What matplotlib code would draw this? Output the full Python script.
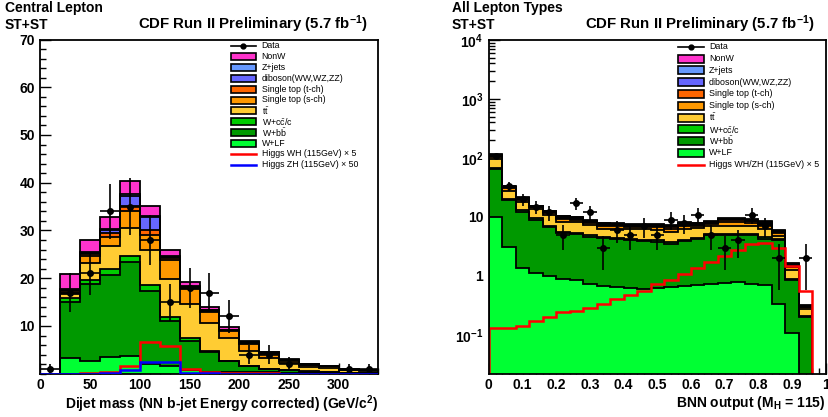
import numpy as np
import matplotlib
matplotlib.use('Agg')
import matplotlib.pyplot as plt
from matplotlib.patches import Rectangle
from matplotlib.lines import Line2D
from matplotlib.ticker import FixedLocator, MultipleLocator, NullFormatter

plt.rcParams['font.family'] = ['Liberation Sans', 'DejaVu Sans']
plt.rcParams['mathtext.fontset'] = 'custom'
plt.rcParams['mathtext.rm'] = 'Liberation Sans'
plt.rcParams['mathtext.bf'] = 'Liberation Sans:bold'
plt.rcParams['mathtext.it'] = 'Liberation Sans:italic'

# ---------------- data: left panel (dijet mass, 20 GeV bins 0-340) ----------------
mjj_edges = [0, 20, 40, 60, 80, 100, 120, 140, 160, 180, 200, 220, 240, 260, 280, 300, 320, 340]
L_wlf    = [0, 3.2, 2.7, 3.4, 3.7, 2.0, 1.6, 0.8, 0.3, 0.3, 0.4, 0.3, 0.2, 0.15, 0.1, 0.05, 0.05]
L_wbb    = [0, 11.9, 16.0, 17.3, 19.6, 15.4, 9.5, 6.1, 4.2, 2.3, 1.2, 0.6, 0.55, 0.3, 0.2, 0.1, 0.1]
L_wcc    = [0, 0.8, 1.0, 1.2, 1.3, 1.2, 0.8, 0.5, 0.2, 0.1, 0.1, 0.1, 0.05, 0.05, 0.03, 0.02, 0.02]
L_tt     = [0, 0.7, 3.5, 4.9, 6.0, 7.3, 8.0, 7.2, 5.9, 4.7, 3.1, 2.2, 1.4, 0.9, 0.95, 0.55, 0.45]
L_stops  = [0, 0.4, 1.4, 1.8, 3.5, 3.1, 4.0, 3.1, 2.4, 1.6, 1.4, 1.0, 0.55, 0.45, 0.25, 0.15, 0.15]
L_stopt  = [0, 0.3, 0.4, 0.8, 1.0, 1.0, 0.3, 0.3, 0.15, 0.1, 0.15, 0.1, 0.1, 0.05, 0.03, 0.02, 0.02]
L_dib    = [0, 0.3, 0.3, 0.6, 2.1, 2.8, 0.2, 0.2, 0.1, 0.1, 0.15, 0.1, 0.05, 0.03, 0.02, 0.01, 0.01]
L_zjets  = [0, 0.2, 0.2, 0.4, 0.5, 0.3, 0.2, 0.2, 0.1, 0.05, 0.1, 0.05, 0.05, 0.02, 0.02, 0.0, 0.0]
L_nonw   = [0, 3.0, 2.5, 2.4, 2.7, 2.1, 1.4, 0.9, 0.7, 0.5, 0.3, 0.15, 0.05, 0.05, 0.0, 0.0, 0.0]
L_wh5    = [0, 0, 0.1, 0.3, 1.6, 6.6, 5.8, 0.9, 0.35, 0.15, 0.1, 0.05, 0.02, 0, 0, 0, 0]
L_zh50   = [0, 0, 0, 0.1, 0.7, 2.5, 2.5, 0.25, 0.05, 0.02, 0, 0, 0, 0, 0, 0, 0]
L_data   = [1, 17, 21, 34, 35, 28, 15, 18, 17, 12, 4, 4, 2, 0, 0, 1, 1]

# ---------------- data: right panel (BNN output, 25 bins 0-1) ----------------
bnn_edges = [0.0, 0.04, 0.08, 0.12, 0.16, 0.2, 0.24, 0.28, 0.32, 0.36, 0.4, 0.44, 0.48,
             0.52, 0.56, 0.6, 0.64, 0.68, 0.72, 0.76, 0.8, 0.84, 0.88, 0.92, 0.96, 1.0]
R_wlf   = [10.0, 3.1, 1.38, 1.14, 1.0, 0.9, 0.86, 0.72, 0.68, 0.65, 0.62, 0.6, 0.62, 0.64, 0.67,
           0.70, 0.73, 0.75, 0.78, 0.74, 0.70, 0.34, 0.107, 0.015, 0]
R_wbb   = [55.0, 16.3, 10.9, 7.8, 5.7, 4.4, 4.24, 3.88, 3.72, 3.55, 3.38, 3.3, 3.18, 2.86, 3.23,
           3.5, 4.27, 4.25, 4.22, 4.26, 3.6, 3.76, 0.75, 0.185, 0]
R_wcc   = [3.0, 0.9, 0.6, 0.5, 0.4, 0.3, 0.3, 0.26, 0.19, 0.21, 0.22, 0.23, 0.22, 0.2, 0.23,
           0.22, 0.21, 0.21, 0.21, 0.21, 0.19, 0.07, 0.04, 0.007, 0]
R_tt    = [27.0, 7.7, 5.3, 4.3, 3.7, 2.7, 2.7, 2.34, 1.71, 1.89, 1.98, 2.07, 1.98, 1.8, 2.07,
           1.98, 1.89, 1.89, 1.89, 1.89, 1.71, 0.63, 0.37, 0.063, 0]
R_stops = [9.9, 2.5, 1.5, 0.8, 0.9, 1.0, 0.9, 0.77, 0.77, 0.68, 0.58, 0.58, 0.72, 0.81, 0.86,
           0.72, 0.63, 1.2, 1.2, 0.9, 1.0, 0.54, 0.16, 0.023, 0]
R_stopt = [4.4, 1.1, 0.66, 0.36, 0.4, 0.46, 0.4, 0.34, 0.34, 0.3, 0.26, 0.26, 0.32, 0.36, 0.38,
           0.32, 0.28, 0.54, 0.54, 0.4, 0.46, 0.24, 0.07, 0.01, 0]
R_dib   = [2.6, 0.66, 0.4, 0.22, 0.24, 0.28, 0.24, 0.2, 0.2, 0.18, 0.16, 0.16, 0.19, 0.22, 0.23,
           0.19, 0.17, 0.32, 0.32, 0.24, 0.28, 0.14, 0.04, 0.006, 0]
R_zjets = [1.8, 0.44, 0.26, 0.14, 0.16, 0.18, 0.16, 0.14, 0.14, 0.12, 0.1, 0.1, 0.13, 0.14, 0.15,
           0.13, 0.11, 0.22, 0.22, 0.16, 0.18, 0.1, 0.03, 0.004, 0]
R_nonw  = [3.3, 0.8, 0.5, 0.28, 0.3, 0.35, 0.3, 0.25, 0.25, 0.22, 0.2, 0.2, 0.24, 0.27, 0.28,
           0.24, 0.21, 0.4, 0.4, 0.3, 0.35, 0.18, 0.06, 0.007, 0]
R_higgs5 = [0.13, 0.13, 0.142, 0.17, 0.205, 0.24, 0.25, 0.29, 0.335, 0.40, 0.48, 0.55, 0.74, 0.86,
            1.07, 1.35, 1.72, 2.2, 2.7, 3.45, 3.55, 3.0, 1.5, 0.55, 0]
R_data  = [108, 33, 20, 15, 12, 5, 17, 12, 3, 6, 5, 7, 5, 9, 8, 11, 5, 3, 4, 11, 7, 2, 0, 2, 0]

# tick labels
L_xticks = [0, 50, 100, 150, 200, 250, 300]
L_yticks = [10, 20, 30, 40, 50, 60, 70]
R_xticks = [0, 0.1, 0.2, 0.3, 0.4, 0.5, 0.6, 0.7, 0.8, 0.9, 1.0]
R_xticklabels = ['0', '0.1', '0.2', '0.3', '0.4', '0.5', '0.6', '0.7', '0.8', '0.9', '1']
R_yticks = [0.1, 1, 10, 100, 1000, 10000]
R_yticklabels = [r'$\mathbf{10^{-1}}$', '1', '10', r'$\mathbf{10^{2}}$', r'$\mathbf{10^{3}}$', r'$\mathbf{10^{4}}$']

# ---------------- style ----------------
C_NONW = '#ff33cc'
C_ZJ = '#6699ff'
C_DIB = '#6666ff'
C_STT = '#ff6600'
C_STS = '#ff9900'
C_TT = '#ffcc33'
C_WCC = '#00cc00'
C_WBB = '#009900'
C_WLF = '#00ff33'

W, H = 829, 417
fig = plt.figure(figsize=(W / 100, H / 100), dpi=100)


def fx(px):
    return px / W


def fy(py):
    return 1 - py / H


def axes_px(l, r, t, b):
    return fig.add_axes([fx(l), fy(b), fx(r) - fx(l), fy(t) - fy(b)])


def draw_stack(ax, edges, comps, colors, base):
    cum = np.zeros(len(edges) - 1)
    cums = []
    for c in comps:
        cum = cum + np.asarray(c, dtype=float)
        cums.append(cum.copy())
    for cv, col in reversed(list(zip(cums, colors))):
        ax.stairs(cv, edges, baseline=base, fill=True, color=col, lw=0, zorder=2)
        ax.stairs(cv, edges, baseline=base, fill=False, color='black', lw=1.3, zorder=3)


def draw_data(ax, edges, data, logy=False):
    e = np.asarray(edges, dtype=float)
    d = np.asarray(data, dtype=float)
    c = 0.5 * (e[:-1] + e[1:])
    hw = 0.5 * (e[1:] - e[:-1])
    m = d > 0
    err = np.sqrt(d[m])
    lo = np.minimum(err, d[m] - (1e-3 if logy else 0))
    ax.errorbar(c[m], d[m], yerr=[lo, err], xerr=hw[m], fmt='o', color='black', ms=4,
                elinewidth=1.2, capsize=0, zorder=6)


comps_colors = [C_WLF, C_WBB, C_WCC, C_TT, C_STS, C_STT, C_DIB, C_ZJ, C_NONW]

# ---------------- left panel ----------------
axL = axes_px(40.5, 378.5, 39.5, 373.7)
draw_stack(axL, mjj_edges,
           [L_wlf, L_wbb, L_wcc, L_tt, L_stops, L_stopt, L_dib, L_zjets, L_nonw],
           comps_colors, 0)
axL.stairs(L_wh5, mjj_edges, baseline=0, color='#ff0000', lw=1.8, zorder=4)
axL.stairs(L_zh50, mjj_edges, baseline=0, color='#0000ff', lw=1.8, zorder=11)
draw_data(axL, mjj_edges, L_data)
axL.set_xlim(0, 340)
axL.set_ylim(0, 70)
axL.set_xticks(L_xticks)
axL.set_xticklabels([str(v) for v in L_xticks])
axL.set_yticks(L_yticks)
axL.set_yticklabels([str(v) for v in L_yticks])
axL.xaxis.set_minor_locator(MultipleLocator(10))
axL.yaxis.set_minor_locator(MultipleLocator(2))

# ---------------- right panel ----------------
axR = axes_px(488.8, 825.8, 40, 373.7)
axR.set_yscale('log')
draw_stack(axR, bnn_edges,
           [R_wlf, R_wbb, R_wcc, R_tt, R_stops, R_stopt, R_dib, R_zjets, R_nonw],
           comps_colors, 1e-4)
axR.stairs(R_higgs5, bnn_edges, baseline=1e-4, color='#ff0000', lw=1.8, zorder=4)
draw_data(axR, bnn_edges, R_data, logy=True)
axR.set_xlim(0, 1)
axR.set_ylim(0.022, 1e4)
axR.set_xticks(R_xticks)
axR.set_xticklabels(R_xticklabels)
axR.yaxis.set_major_locator(FixedLocator(R_yticks))
axR.set_yticklabels(R_yticklabels)
minor = [m * 10.0 ** k for k in range(-2, 4) for m in range(2, 10)]
axR.yaxis.set_minor_locator(FixedLocator(minor))
axR.yaxis.set_minor_formatter(NullFormatter())
axR.xaxis.set_minor_locator(MultipleLocator(0.02))

for ax in (axL, axR):
    for s in ax.spines.values():
        s.set_linewidth(1.3)
        s.set_zorder(10)
    ax.tick_params(which='both', direction='in', width=1.0, top=False, right=False)
    ax.tick_params(which='major', length=8, labelsize=10, pad=4)
    ax.tick_params(which='minor', length=4)
    ax.tick_params(axis='x', which='major', pad=3)
    for lab in ax.get_xticklabels() + ax.get_yticklabels():
        lab.set_fontweight('bold')

# ---------------- titles / axis labels ----------------
def ftext(px, py, s, **kw):
    fig.text(fx(px), fy(py), s, **kw)

ftext(5, 8, 'Central Lepton', fontsize=10, fontweight='bold', va='center', ha='left')
ftext(5, 25, 'ST+ST', fontsize=10, fontweight='bold', va='center', ha='left')
ftext(138, 24, r'CDF Run II Preliminary (5.7 fb$^{\mathbf{-1}}$)', fontsize=10.8,
      fontweight='bold', va='center', ha='left')
ftext(452, 8, 'All Lepton Types', fontsize=10, fontweight='bold', va='center', ha='left')
ftext(452, 25, 'ST+ST', fontsize=10, fontweight='bold', va='center', ha='left')
ftext(585, 24, r'CDF Run II Preliminary (5.7 fb$^{\mathbf{-1}}$)', fontsize=10.8,
      fontweight='bold', va='center', ha='left')

ftext(378.5, 404, r'Dijet mass (NN b-jet Energy corrected) (GeV/c$^{\mathbf{2}}$)', fontsize=10,
      fontweight='bold', va='center', ha='right')
ftext(825.8, 403, r'BNN output (M$_{\mathbf{H}}$ = 115)', fontsize=10,
      fontweight='bold', va='center', ha='right')

# ---------------- legends ----------------
def legend(x0, x1, tx, y0, dy, boxh, entries, fs):
    for i, (kind, col, label) in enumerate(entries):
        y = y0 + dy * i
        if kind == 'data':
            fig.add_artist(Line2D([fx(x0), fx(x1)], [fy(y), fy(y)], color='black', lw=1.2,
                                  transform=fig.transFigure))
            fig.add_artist(Line2D([fx(0.5 * (x0 + x1))], [fy(y)], color='black', marker='o',
                                  ms=3.5, transform=fig.transFigure))
        elif kind == 'line':
            fig.add_artist(Line2D([fx(x0), fx(x1)], [fy(y), fy(y)], color=col, lw=1.8,
                                  transform=fig.transFigure))
        else:
            fig.add_artist(Rectangle((fx(x0), fy(y + boxh / 2)), fx(x1) - fx(x0),
                                     fy(y - boxh / 2) - fy(y + boxh / 2), facecolor=col,
                                     edgecolor='black', lw=1.2, transform=fig.transFigure))
        fig.text(fx(tx), fy(y), label, fontsize=fs, va='center', ha='left')

legL = [('data', 'black', 'Data'), ('box', C_NONW, 'NonW'), ('box', C_ZJ, 'Z+jets'),
        ('box', C_DIB, 'diboson(WW,WZ,ZZ)'), ('box', C_STT, 'Single top (t-ch)'),
        ('box', C_STS, 'Single top (s-ch)'), ('box', C_TT, r't$\bar{\mathrm{t}}$'),
        ('box', C_WCC, r'W+c$\bar{\mathrm{c}}$/c'), ('box', C_WBB, r'W+b$\bar{\mathrm{b}}$'),
        ('box', C_WLF, 'W+LF'), ('line', '#ff0000', 'Higgs WH (115GeV) \u00d7 5'),
        ('line', '#0000ff', 'Higgs ZH (115GeV) \u00d7 50')]
legend(230.7, 256, 261.7, 46, 10.8, 7, legL, 6.3)

legR = [('data', 'black', 'Data'), ('box', C_NONW, 'NonW'), ('box', C_ZJ, 'Z+jets'),
        ('box', C_DIB, 'diboson(WW,WZ,ZZ)'), ('box', C_STT, 'Single top (t-ch)'),
        ('box', C_STS, 'Single top (s-ch)'), ('box', C_TT, r't$\bar{\mathrm{t}}$'),
        ('box', C_WCC, r'W+c$\bar{\mathrm{c}}$/c'), ('box', C_WBB, r'W+b$\bar{\mathrm{b}}$'),
        ('box', C_WLF, 'W+LF'), ('line', '#ff0000', 'Higgs WH/ZH (115GeV) \u00d7 5')]
legend(677.7, 704, 709, 46.7, 11.8, 8, legR, 6.4)

fig.savefig('out.png', dpi=100)
